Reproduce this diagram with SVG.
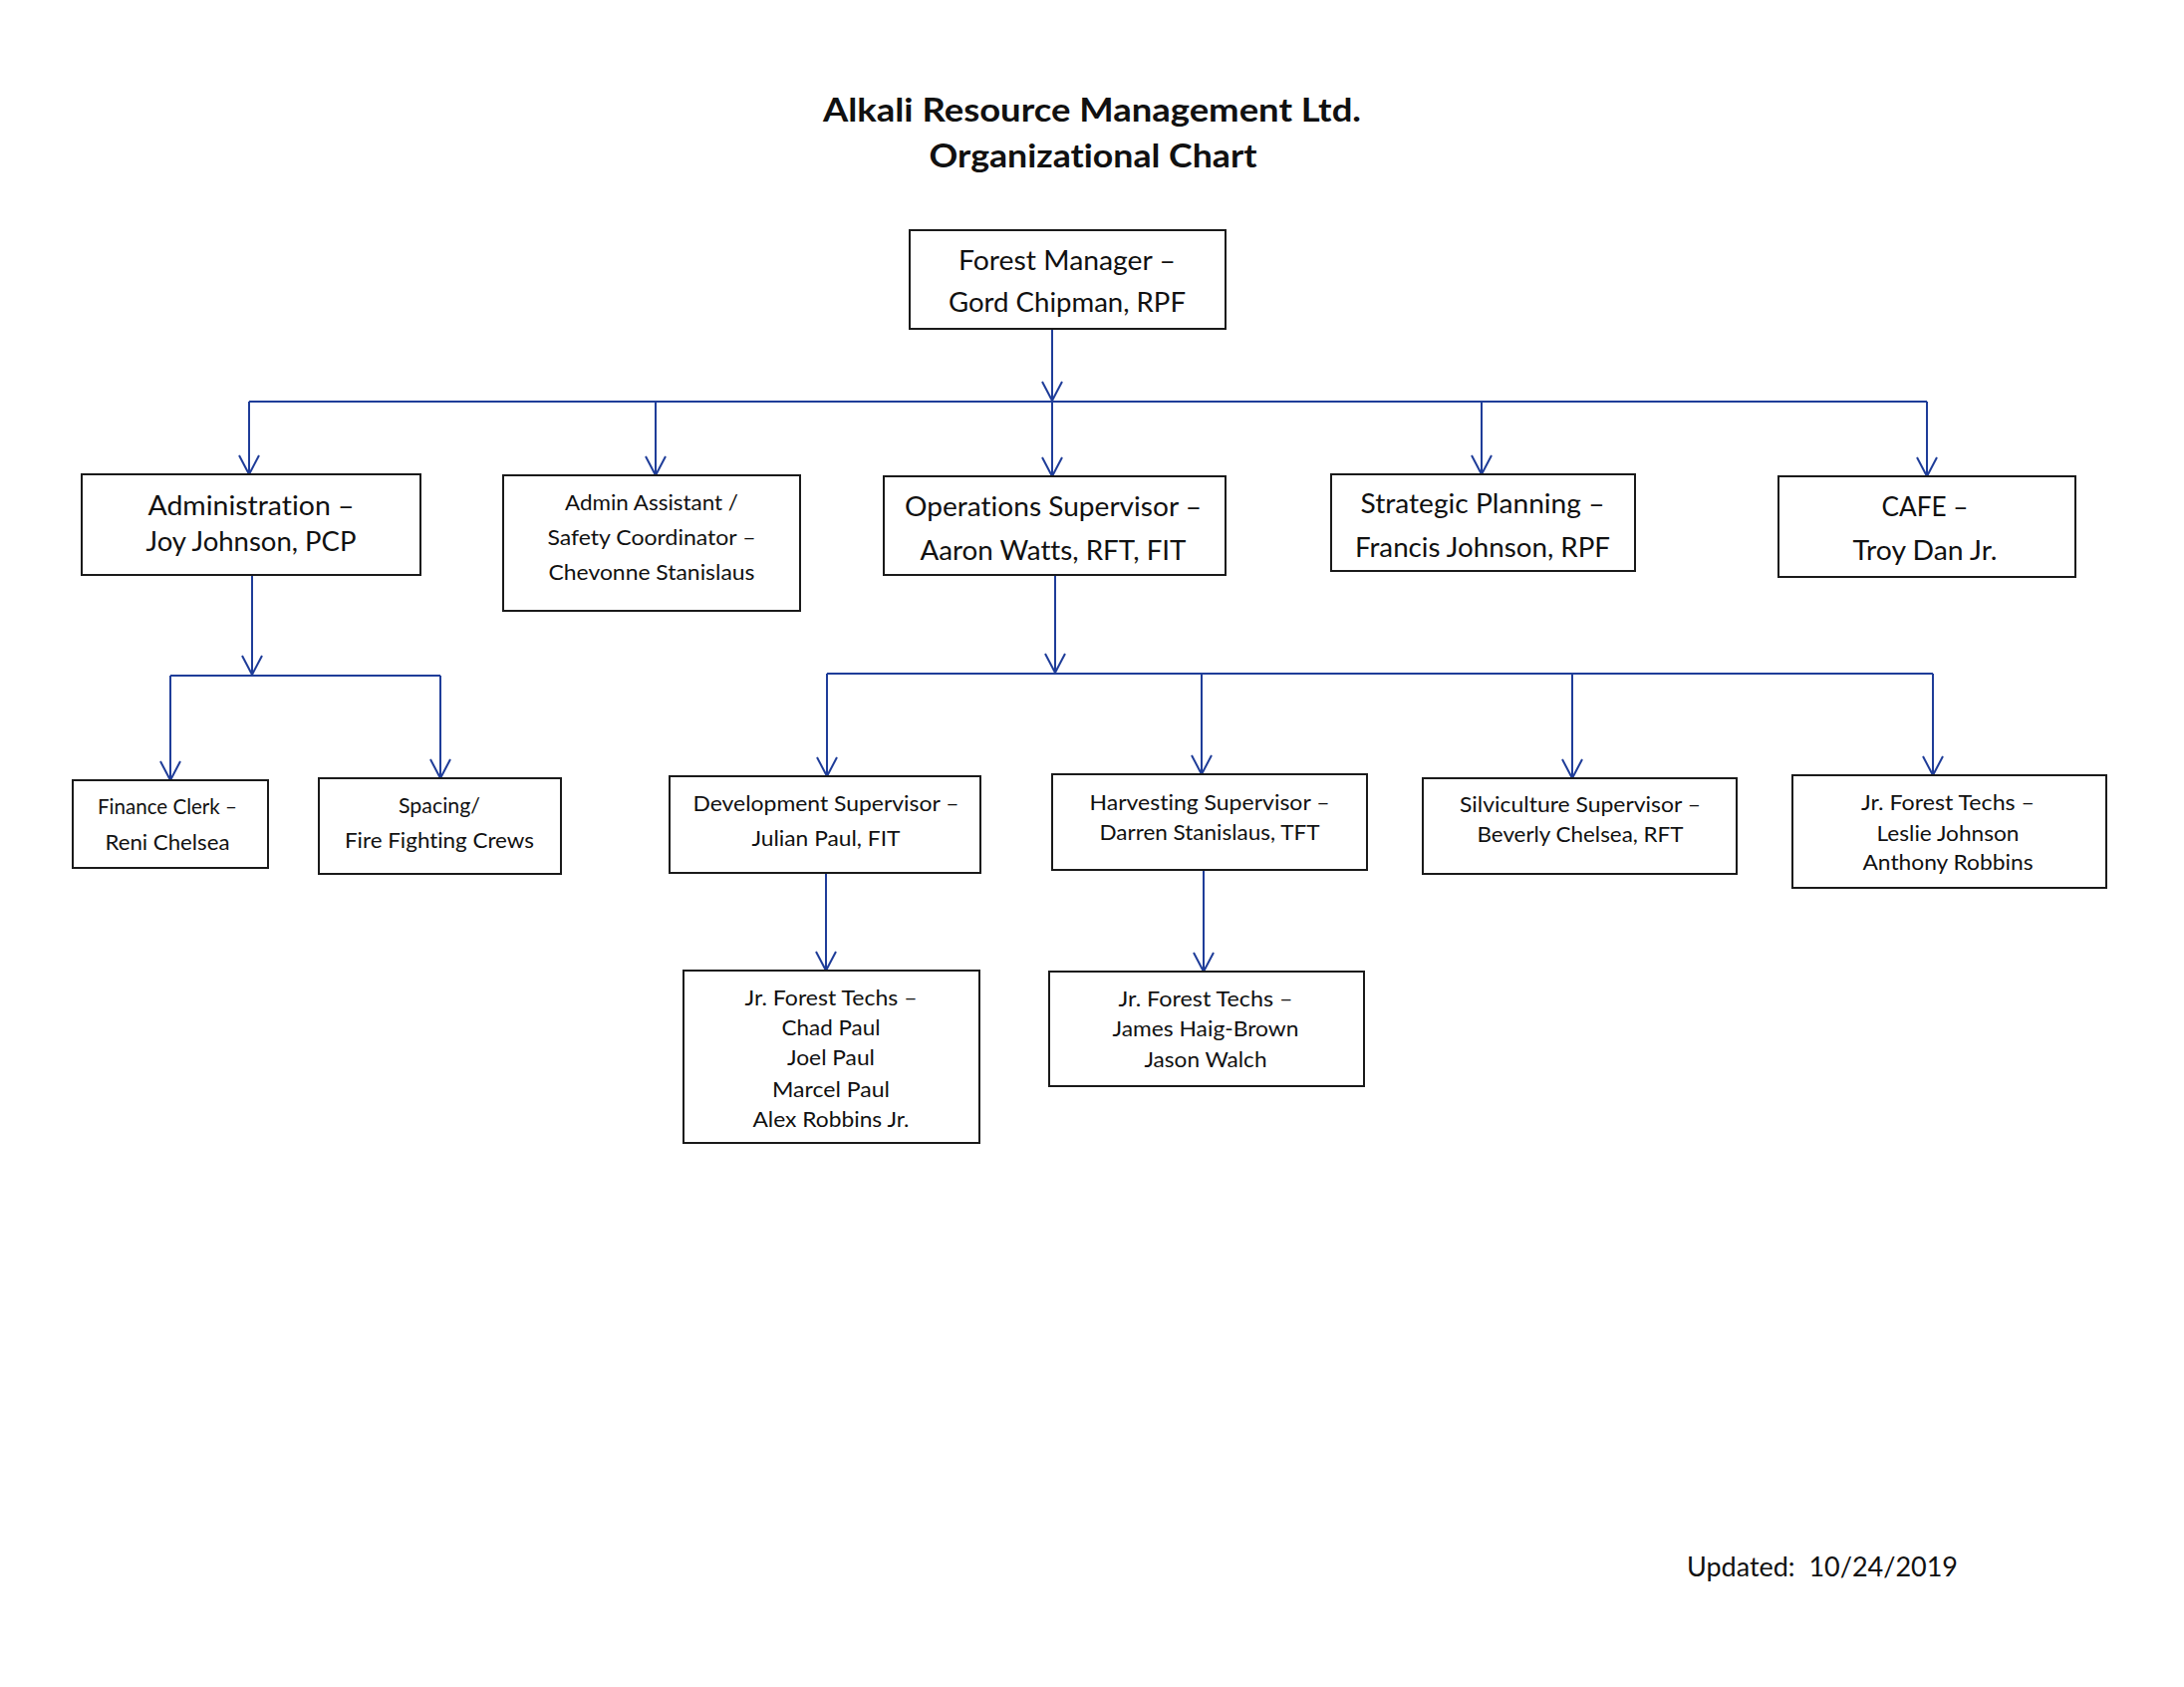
<svg xmlns="http://www.w3.org/2000/svg" width="2192" height="1693" viewBox="0 0 2192 1693">
<style>
.bg{fill:#ffffff}
.box{fill:#ffffff;stroke:#1a1a1a;stroke-width:2}
text{font-variant-ligatures:none}
.t{font-family:Lato,"Liberation Sans",sans-serif;fill:#111111;text-anchor:middle}
.L{font-size:26px}
.S{font-size:21px}
.title{font-family:Lato,"Liberation Sans",sans-serif;font-weight:bold;font-size:33px;fill:#111111;text-anchor:middle}
.c{fill:none;stroke:#1f3d99;stroke-width:2}
.a{fill:none;stroke:#1f3d99;stroke-width:2;marker-end:url(#arr)}
</style>
<defs>
<marker id="arr" markerUnits="userSpaceOnUse" viewBox="-22 -12 24 24" markerWidth="24" markerHeight="24" refX="0" refY="0" orient="auto" overflow="visible">
<path d="M-19,-10 L0,0 L-19,10" fill="none" stroke="#1f3d99" stroke-width="2"/>
</marker>
</defs>
<rect class="bg" x="0" y="0" width="2192" height="1693"/>
<g id="title">
<text class="title" x="1096" y="122" textLength="540" lengthAdjust="spacingAndGlyphs">Alkali Resource Management Ltd.</text>
<text class="title" x="1097" y="168" textLength="329" lengthAdjust="spacingAndGlyphs">Organizational Chart</text>
</g>
<g id="connectors">
<path class="a" d="M1056,330 V402"/>
<path class="c" d="M250,403 H1934"/>
<path class="a" d="M250,403 V476"/>
<path class="a" d="M658,403 V477"/>
<path class="a" d="M1056,403 V478"/>
<path class="a" d="M1487,403 V476"/>
<path class="a" d="M1934,403 V478"/>
<path class="a" d="M253,577 V677"/>
<path class="c" d="M171,678 H442"/>
<path class="a" d="M171,678 V783"/>
<path class="a" d="M442,678 V781"/>
<path class="a" d="M1059,577 V675"/>
<path class="c" d="M830,676 H1940"/>
<path class="a" d="M830,676 V779"/>
<path class="a" d="M1206,676 V777"/>
<path class="a" d="M1578,676 V781"/>
<path class="a" d="M1940,676 V778"/>
<path class="a" d="M829,876 V974"/>
<path class="a" d="M1208,873 V975"/>
</g>
<g id="forest-manager">
<rect class="box" x="913" y="231" width="317" height="99"/>
<text class="t L" x="1071" y="271" textLength="218" lengthAdjust="spacingAndGlyphs">Forest Manager –</text>
<text class="t L" x="1071" y="313" textLength="238" lengthAdjust="spacingAndGlyphs">Gord Chipman, RPF</text>
</g>
<g id="administration">
<rect class="box" x="82" y="476" width="340" height="101"/>
<text class="t L" x="252" y="517" textLength="207" lengthAdjust="spacingAndGlyphs">Administration –</text>
<text class="t L" x="252" y="553" textLength="211" lengthAdjust="spacingAndGlyphs">Joy Johnson, PCP</text>
</g>
<g id="admin-assistant">
<rect class="box" x="505" y="477" width="298" height="136"/>
<text class="t S" x="654" y="512" textLength="174" lengthAdjust="spacingAndGlyphs">Admin Assistant /</text>
<text class="t S" x="654" y="547" textLength="209" lengthAdjust="spacingAndGlyphs">Safety Coordinator –</text>
<text class="t S" x="654" y="582" textLength="207" lengthAdjust="spacingAndGlyphs">Chevonne Stanislaus</text>
</g>
<g id="operations-supervisor">
<rect class="box" x="887" y="478" width="343" height="99"/>
<text class="t L" x="1057" y="518" textLength="298" lengthAdjust="spacingAndGlyphs">Operations Supervisor –</text>
<text class="t L" x="1057" y="562" textLength="267" lengthAdjust="spacingAndGlyphs">Aaron Watts, RFT, FIT</text>
</g>
<g id="strategic-planning">
<rect class="box" x="1336" y="476" width="305" height="97"/>
<text class="t L" x="1488" y="515" textLength="245" lengthAdjust="spacingAndGlyphs">Strategic Planning –</text>
<text class="t L" x="1488" y="559" textLength="256" lengthAdjust="spacingAndGlyphs">Francis Johnson, RPF</text>
</g>
<g id="cafe">
<rect class="box" x="1785" y="478" width="298" height="101"/>
<text class="t L" x="1932" y="518" textLength="87" lengthAdjust="spacingAndGlyphs">CAFE –</text>
<text class="t L" x="1932" y="562" textLength="145" lengthAdjust="spacingAndGlyphs">Troy Dan Jr.</text>
</g>
<g id="finance-clerk">
<rect class="box" x="73" y="783" width="196" height="88"/>
<text class="t S" x="168" y="817" textLength="140" lengthAdjust="spacingAndGlyphs">Finance Clerk –</text>
<text class="t S" x="168" y="853" textLength="125" lengthAdjust="spacingAndGlyphs">Reni Chelsea</text>
</g>
<g id="spacing-crews">
<rect class="box" x="320" y="781" width="243" height="96"/>
<text class="t S" x="441" y="816" textLength="82" lengthAdjust="spacingAndGlyphs">Spacing/</text>
<text class="t S" x="441" y="851" textLength="190" lengthAdjust="spacingAndGlyphs">Fire Fighting Crews</text>
</g>
<g id="development-supervisor">
<rect class="box" x="672" y="779" width="312" height="97"/>
<text class="t S" x="829" y="814" textLength="267" lengthAdjust="spacingAndGlyphs">Development Supervisor –</text>
<text class="t S" x="829" y="849" textLength="149" lengthAdjust="spacingAndGlyphs">Julian Paul, FIT</text>
</g>
<g id="harvesting-supervisor">
<rect class="box" x="1056" y="777" width="316" height="96"/>
<text class="t S" x="1214" y="813" textLength="241" lengthAdjust="spacingAndGlyphs">Harvesting Supervisor –</text>
<text class="t S" x="1214" y="843" textLength="221" lengthAdjust="spacingAndGlyphs">Darren Stanislaus, TFT</text>
</g>
<g id="silviculture-supervisor">
<rect class="box" x="1428" y="781" width="315" height="96"/>
<text class="t S" x="1586" y="815" textLength="242" lengthAdjust="spacingAndGlyphs">Silviculture Supervisor –</text>
<text class="t S" x="1586" y="845" textLength="207" lengthAdjust="spacingAndGlyphs">Beverly Chelsea, RFT</text>
</g>
<g id="jr-forest-techs-ops">
<rect class="box" x="1799" y="778" width="315" height="113"/>
<text class="t S" x="1955" y="813" textLength="174" lengthAdjust="spacingAndGlyphs">Jr. Forest Techs –</text>
<text class="t S" x="1955" y="844" textLength="143" lengthAdjust="spacingAndGlyphs">Leslie Johnson</text>
<text class="t S" x="1955" y="873" textLength="171" lengthAdjust="spacingAndGlyphs">Anthony Robbins</text>
</g>
<g id="jr-forest-techs-dev">
<rect class="box" x="686" y="974" width="297" height="173"/>
<text class="t S" x="834" y="1009" textLength="173" lengthAdjust="spacingAndGlyphs">Jr. Forest Techs –</text>
<text class="t S" x="834" y="1039" textLength="99" lengthAdjust="spacingAndGlyphs">Chad Paul</text>
<text class="t S" x="834" y="1069" textLength="88" lengthAdjust="spacingAndGlyphs">Joel Paul</text>
<text class="t S" x="834" y="1101" textLength="118" lengthAdjust="spacingAndGlyphs">Marcel Paul</text>
<text class="t S" x="834" y="1131" textLength="157" lengthAdjust="spacingAndGlyphs">Alex Robbins Jr.</text>
</g>
<g id="jr-forest-techs-harv">
<rect class="box" x="1053" y="975" width="316" height="115"/>
<text class="t S" x="1210" y="1010" textLength="175" lengthAdjust="spacingAndGlyphs">Jr. Forest Techs –</text>
<text class="t S" x="1210" y="1040" textLength="187" lengthAdjust="spacingAndGlyphs">James Haig-Brown</text>
<text class="t S" x="1210" y="1071" textLength="123" lengthAdjust="spacingAndGlyphs">Jason Walch</text>
</g>
<g id="updated">
<text x="1693" y="1582" font-family="Lato, 'Liberation Sans', sans-serif" font-size="26" fill="#111111" textLength="272" lengthAdjust="spacingAndGlyphs" xml:space="preserve">Updated:  10/24/2019</text>
</g>
</svg>
